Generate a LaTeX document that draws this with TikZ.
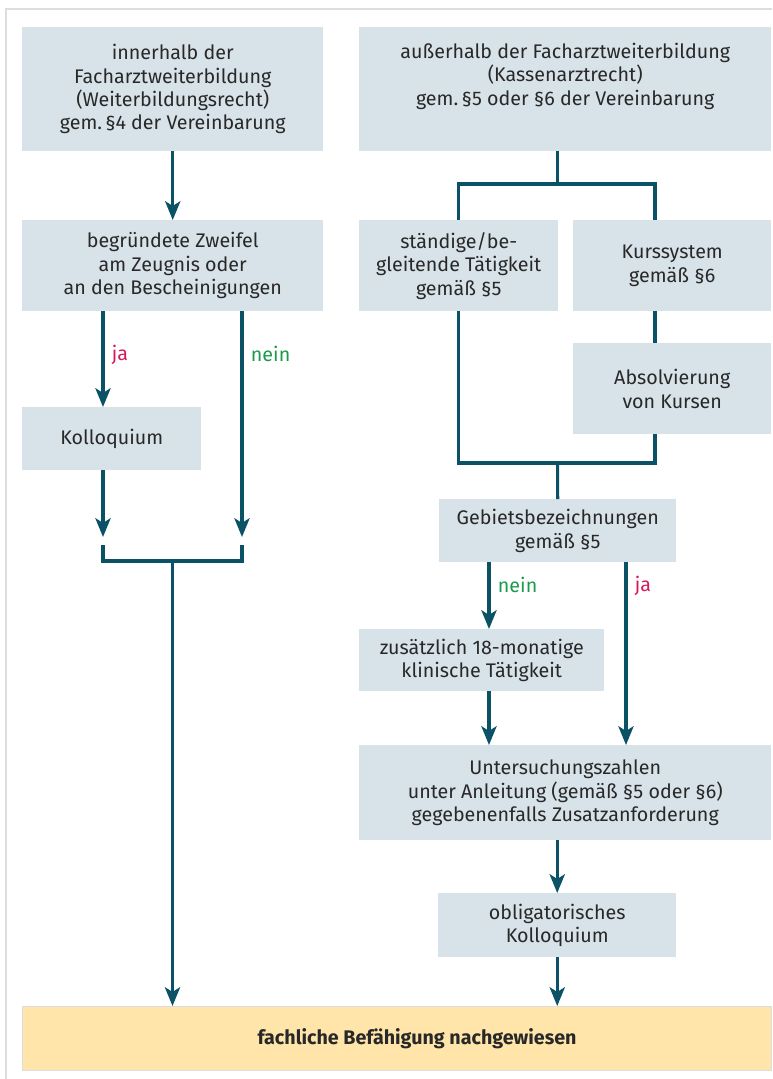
\documentclass[tikz,border=0pt]{standalone}
\usepackage{fontspec}
\setmainfont{Fira Sans}
\usetikzlibrary{arrows.meta}
\definecolor{boxfill}{RGB}{216,226,233}
\definecolor{flowline}{RGB}{12,82,102}
\definecolor{jared}{RGB}{214,24,90}
\definecolor{neingreen}{RGB}{26,154,75}
\definecolor{finfill}{RGB}{255,229,169}
\definecolor{framegray}{RGB}{221,221,221}
\definecolor{txt}{RGB}{40,40,40}
\newcommand{\flowfont}{\fontsize{16.8}{20}\selectfont}

\begin{document}
\begin{tikzpicture}[x=0.03cm,y=-0.03cm,>={Stealth[length=16pt,width=13pt,inset=4pt]},font=\flowfont,
  flowbox/.style={fill=boxfill,text=txt,align=center,inner sep=0pt,anchor=north west},
  flow/.style={draw=flowline,line width=2.6pt}]
\useasboundingbox (0,0) rectangle (772,1079);
\draw[framegray,line width=1pt] (6,1079) -- (6,9) -- (772,9);
% left column
\node[flowbox,minimum width=9.03cm,minimum height=3.72cm] (inner) at (22,27) {innerhalb der\\Facharztweiterbildung\\(Weiterbildungsrecht)\\gem.\,§4 der Vereinbarung};
\node[flowbox,minimum width=9.03cm,minimum height=2.73cm] (zweifel) at (22,220) {begründete Zweifel\\am Zeugnis oder\\an den Bescheinigungen};
\node[flowbox,minimum width=5.37cm,minimum height=1.89cm] (kolloq) at (22,407) {Kolloquium};
% right column
\node[flowbox,minimum width=12.36cm,minimum height=3.72cm] (auss) at (359,27) {außerhalb der Facharztweiterbildung\\(Kassenarztrecht)\\gem.\,§5 oder §6 der Vereinbarung\\\strut};
\node[flowbox,minimum width=5.97cm,minimum height=2.73cm] (staend) at (359,220) {ständige/be-\\gleitende Tätigkeit\\gemäß §5};
\node[flowbox,minimum width=5.94cm,minimum height=2.73cm] (kurs) at (573,220) {Kurssystem\\gemäß §6};
\node[flowbox,minimum width=5.94cm,minimum height=2.73cm] (absolv) at (573,343) {Absolvierung\\von Kursen};
\node[flowbox,minimum width=7.11cm,minimum height=1.89cm] (gebiet) at (439,499) {Gebietsbezeichnungen\\gemäß §5};
\node[flowbox,minimum width=7.35cm,minimum height=1.86cm] (zusatz) at (359,629) {zusätzlich 18-monatige\\klinische Tätigkeit};
\node[flowbox,minimum width=12.36cm,minimum height=2.85cm] (unters) at (359,745) {Untersuchungszahlen\\unter Anleitung (gemäß §5 oder §6)\\gegebenenfalls Zusatzanforderung};
\node[flowbox,minimum width=7.14cm,minimum height=1.92cm] (oblig) at (438,893) {obligatorisches\\Kolloquium};
% result
\node[flowbox,fill=finfill,draw=framegray,line width=1pt,minimum width=22.47cm,minimum height=1.92cm,
  label={[xshift=0.6cm,text=txt,font=\flowfont\bfseries]center:fachliche Befähigung nachgewiesen}] (fin) at (22,1006) {};

\coordinate (lj) at (103,0);
\coordinate (ln) at (242,0);
\coordinate (al) at (103,537);
\coordinate (ar) at (242,537);
\coordinate (bl) at (103,545);
\coordinate (br) at (242,545);
\coordinate (bm) at (172.5,561);
\coordinate (rb) at (557.5,184);
\coordinate (kx) at (655,184);
\coordinate (mj) at (557.5,463);
\coordinate (rn) at (489,0);
\coordinate (rj) at (626,0);

\draw[flow,->] (inner) -- (zweifel);
\draw[flow,->] (zweifel.south -| lj) -- node[pos=0.45,right=3pt,text=jared]{ja} (kolloq.north -| lj);
\draw[flow,->] (zweifel.south -| ln) -- node[pos=0.19,right=3pt,text=neingreen]{nein} (ar);
\draw[flow,->] (kolloq.south -| lj) -- (al);
\draw[flow] (bl) |- (bm) -| (br);
\draw[flow,->] (bm) -- (fin.north -| bm);

\draw[flow] (auss.south -| rb) -- (rb);
\draw[flow] (staend.north) |- (kx) -- (kurs.north -| kx);
\draw[flow] (kurs.south -| kx) -- (absolv.north -| kx);
\draw[flow] (staend.south) |- (mj) -| (absolv.south -| kx);
\draw[flow] (mj) -- (gebiet.north);
\draw[flow,->] (gebiet.south -| rn) -- node[pos=0.34,right=3pt,text=neingreen]{nein} (zusatz.north -| rn);
\draw[flow,->] (gebiet.south -| rj) -- node[pos=0.13,right=3pt,text=jared]{ja} (unters.north -| rj);
\draw[flow,->] (zusatz.south -| rn) -- (unters.north -| rn);
\draw[flow,->] (unters.south -| oblig.north) -- (oblig);
\draw[flow,->] (oblig) -- (fin.north -| oblig.south);
\end{tikzpicture}
\end{document}
